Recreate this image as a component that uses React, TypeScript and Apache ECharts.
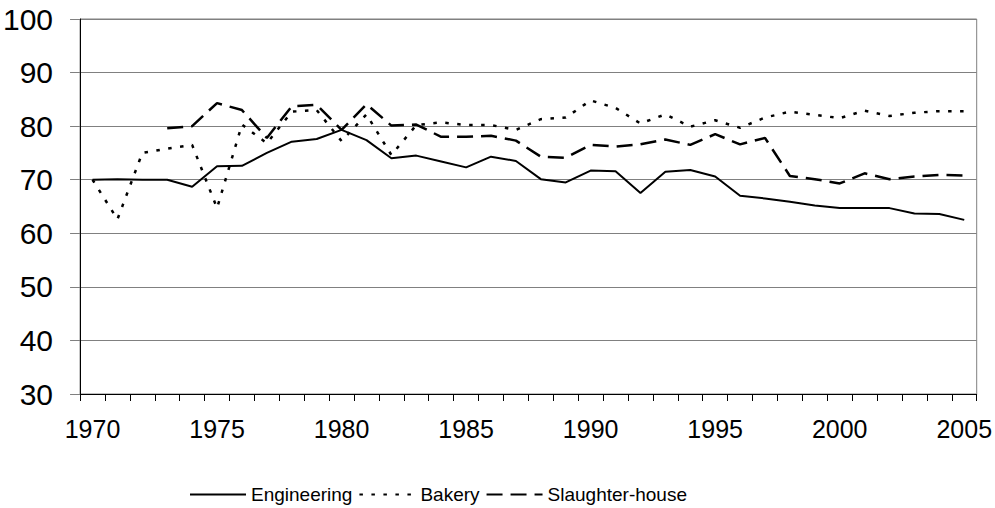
import React, { useEffect, useRef } from "react";
import * as echarts from "echarts";

const years: string[] = [];
for (let y = 1970; y <= 2005; y++) years.push(String(y));

const engineering = [
  70.0, 70.1, 70.0, 70.0, 68.7, 72.5, 72.6, 75.0, 77.1, 77.6,
  79.3, 77.4, 74.0, 74.5, 73.4, 72.3, 74.3, 73.5, 70.1, 69.5,
  71.7, 71.6, 67.5, 71.5, 71.8, 70.6, 67.0, 66.5, 65.9, 65.2,
  64.7, 64.7, 64.7, 63.7, 63.6, 62.5,
];

const bakery = [
  70.0, 62.6, 75.0, 75.8, 76.5, 64.7, 80.3, 76.8, 82.7, 83.0,
  77.2, 82.2, 74.6, 80.2, 80.7, 80.2, 80.2, 79.3, 81.3, 81.6,
  84.8, 83.4, 80.5, 82.2, 79.9, 81.1, 79.7, 81.6, 82.7, 82.1,
  81.5, 82.9, 81.9, 82.5, 82.8, 82.8,
];

const slaughterhouse: (number | null)[] = [
  null, null, null, 79.6, 80.0, 84.3, 83.0, 77.8, 83.7, 84.0,
  79.3, 84.1, 80.1, 80.3, 78.0, 78.0, 78.2, 77.3, 74.3, 74.1,
  76.5, 76.2, 76.6, 77.5, 76.5, 78.5, 76.6, 77.8, 70.7, 70.1,
  69.3, 71.2, 70.1, 70.6, 70.9, 70.8,
];

const FONT = "'Liberation Sans', Arial, sans-serif";

export default function App() {
  const ref = useRef<HTMLDivElement>(null);
  useEffect(() => {
    if (!ref.current) return;
    const chart = echarts.init(ref.current, null, { renderer: "svg" });
    chart.setOption({
      animation: false,
      backgroundColor: "#fff",
      textStyle: { fontFamily: FONT },
      grid: {
        left: 80,
        right: 15,
        top: 19,
        bottom: 114,
        containLabel: false,
        show: true,
        borderColor: "#808080",
        borderWidth: 1,
      },
      legend: {
        left: 184,
        top: 480,
        itemWidth: 56,
        itemHeight: 22,
        itemGap: 6,
        itemStyle: { opacity: 0, borderWidth: 0 },
        textStyle: { fontFamily: FONT, fontSize: 19, color: "#000" },
        data: ["Engineering", "Bakery", "Slaughter-house"],
      },
      xAxis: {
        type: "category",
        data: years,
        boundaryGap: true,
        axisLine: { show: true, lineStyle: { color: "#000", width: 1 } },
        axisTick: { show: true, inside: false, length: 7, interval: 0, lineStyle: { color: "#000" } },
        axisLabel: { interval: 4, fontSize: 25, color: "#000", margin: 22, fontFamily: FONT },
        splitLine: { show: false },
      },
      yAxis: {
        type: "value",
        min: 30,
        max: 100,
        interval: 10,
        axisLine: { show: true, lineStyle: { color: "#000", width: 1 } },
        axisTick: { show: true, inside: false, length: 10, lineStyle: { color: "#808080" } },
        axisLabel: { fontSize: 30, color: "#000", margin: 27, fontFamily: FONT },
        splitLine: { show: true, lineStyle: { color: "#808080", width: 1 } },
      },
      series: [
        {
          name: "Engineering",
          type: "line",
          data: engineering,
          symbol: "none",
          lineStyle: { color: "#000", width: 2, type: "solid" },
          itemStyle: { color: "#000" },
        },
        {
          name: "Bakery",
          type: "line",
          data: bakery,
          symbol: "none",
          lineStyle: { color: "#000", width: 2.5, type: [3.5, 8.5] },
          itemStyle: { color: "#000" },
        },
        {
          name: "Slaughter-house",
          type: "line",
          data: slaughterhouse,
          symbol: "none",
          connectNulls: false,
          lineStyle: { color: "#000", width: 2.5, type: [16, 8] },
          itemStyle: { color: "#000" },
        },
      ],
    });
    return () => chart.dispose();
  }, []);
  return <div ref={ref} style={{ width: 995, height: 508, position: "absolute", left: 0, top: 0 }} />;
}
